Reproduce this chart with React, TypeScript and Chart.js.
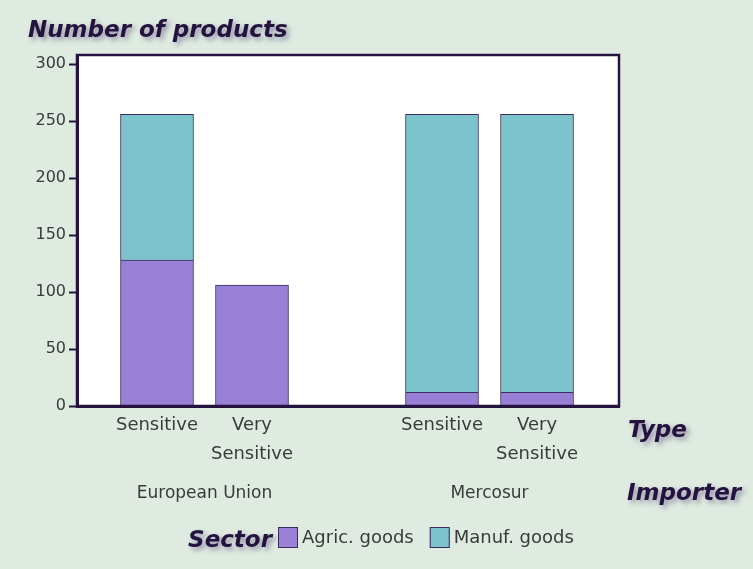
import React, { useEffect, useRef } from "react";
import { Chart, registerables } from "chart.js";

Chart.register(...registerables);

const importers = ["European Union", "Mercosur"];
const types = ["Sensitive", "Very Sensitive"];
const sectors = ["Agric. goods", "Manuf. goods"];
// values in order: EU-Sensitive, EU-Very Sensitive, Mercosur-Sensitive, Mercosur-Very Sensitive
const agricValues = [128, 106, 12, 12];
const manufValues = [128, 0, 244, 244];
const yTicks = [0, 50, 100, 150, 200, 250, 300];

const BG = "#dfebe0";
const INK = "#24123f";
const PURPLE = "#9880d6";
const CYAN = "#7cc3cb";
const FONT = "'DejaVu Sans', Verdana, sans-serif";

// index positions on the x scale: one empty slot between importer groups
const slotOf = (k: number) => Math.floor(k / types.length) * (types.length + 1) + (k % types.length);
const slots = agricValues.map((_, k) => slotOf(k));

export default function App() {
  const ref = useRef<HTMLCanvasElement | null>(null);

  useEffect(() => {
    document.body.style.margin = "0";
    const canvas = ref.current;
    if (!canvas) return;

    const decor = {
      id: "decor",
      beforeDraw(chart: any) {
        const { ctx, chartArea: a } = chart;
        ctx.save();
        ctx.fillStyle = BG;
        ctx.fillRect(0, 0, chart.width, chart.height);
        ctx.fillStyle = "#ffffff";
        ctx.fillRect(a.left, a.top, a.right - a.left, a.bottom - a.top);
        ctx.restore();
      },
      afterDatasetsDraw(chart: any) {
        const { ctx, chartArea: a } = chart;
        ctx.save();
        ctx.strokeStyle = INK;
        ctx.lineWidth = 2.5;
        ctx.strokeRect(a.left, a.top, a.right - a.left, a.bottom - a.top);
        ctx.restore();
      },
      afterDraw(chart: any) {
        const { ctx } = chart;
        const xs = chart.scales.x;
        ctx.save();
        // group labels
        ctx.fillStyle = "#3a3a3a";
        ctx.font = `17px ${FONT}`;
        ctx.textAlign = "center";
        ctx.textBaseline = "middle";
        importers.forEach((name, i) => {
          const c = i * (types.length + 1) + (types.length - 1) / 2;
          ctx.fillText(name, xs.getPixelForValue(c), 494);
        });

        const heading = (t: string, x: number, y: number, size: number) => {
          ctx.save();
          ctx.font = `italic bold ${size}px ${FONT}`;
          ctx.textAlign = "left";
          ctx.textBaseline = "alphabetic";
          ctx.shadowColor = "rgba(80,65,120,0.5)";
          ctx.shadowBlur = 5;
          ctx.shadowOffsetX = 3;
          ctx.shadowOffsetY = 3;
          ctx.fillStyle = INK;
          ctx.fillText(t, x, y);
          ctx.restore();
        };
        heading("Number of products", 28, 37, 23);
        heading("Type", 628, 437, 23);
        heading("Importer", 627, 500, 23);

        // legend
        ctx.font = `italic bold 23px ${FONT}`;
        const sw = ctx.measureText("Sector").width;
        heading("Sector", 272 - sw, 547, 23);
        let x = 278;
        const colors = [PURPLE, CYAN];
        sectors.forEach((s, i) => {
          ctx.fillStyle = colors[i];
          ctx.fillRect(x, 527, 20, 21);
          ctx.strokeStyle = "#3b2b5e";
          ctx.lineWidth = 1;
          ctx.strokeRect(x + 0.5, 527.5, 19, 20);
          ctx.fillStyle = "#3a3a3a";
          ctx.font = `18px ${FONT}`;
          ctx.textAlign = "left";
          ctx.textBaseline = "middle";
          ctx.fillText(s, x + 24, 538);
          x += 24 + ctx.measureText(s).width + 16;
        });
        ctx.restore();
      },
    };

    const chart = new Chart(canvas, {
      type: "bar",
      data: {
        datasets: [
          {
            label: sectors[0],
            data: agricValues.map((v, k) => ({ x: slots[k], y: v })),
            backgroundColor: PURPLE,
            borderColor: "#3b2b5e",
            borderWidth: 1,
            barThickness: 73,
          },
          {
            label: sectors[1],
            data: manufValues.map((v, k) => ({ x: slots[k], y: v })),
            backgroundColor: CYAN,
            borderColor: "#3b2b5e",
            borderWidth: 1,
            barThickness: 73,
          },
        ] as any,
      },
      options: {
        animation: false,
        responsive: false,
        layout: { padding: { left: 0, top: 55, right: 134, bottom: 0 } },
        plugins: { legend: { display: false }, tooltip: { enabled: false } },
        scales: {
          x: {
            type: "linear",
            stacked: true,
            offset: false,
            min: -0.842,
            max: 4.863,
            afterBuildTicks: (s: any) => {
              s.ticks = slots.map((v) => ({ value: v }));
            },
            afterFit: (s: any) => {
              s.height = 163;
            },
            grid: { display: false, drawTicks: false, offset: false },
            border: { display: true, color: INK, width: 3 },
            ticks: {
              padding: 5,
              color: "#3a3a3a",
              font: { family: FONT, size: 18, lineHeight: 1.6 },
              maxRotation: 0,
              autoSkip: false,
              callback: (v: any) => {
                const k = slots.indexOf(v);
                if (k < 0) return "";
                return types[k % types.length].split(" ");
              },
            },
          },
          y: {
            stacked: true,
            min: 0,
            max: 308,
            afterBuildTicks: (s: any) => {
              s.ticks = yTicks.map((v) => ({ value: v }));
            },
            afterFit: (s: any) => {
              s.width = 77;
            },
            grid: {
              drawOnChartArea: false,
              drawTicks: true,
              tickLength: 8,
              tickWidth: 2,
              color: INK,
            },
            border: { display: true, color: INK, width: 3 },
            ticks: {
              padding: 3,
              color: "#3a3a3a",
              font: { family: FONT, size: 16 },
            },
          },
        },
      },
      plugins: [decor],
    });
    return () => chart.destroy();
  }, []);

  return (
    <div style={{ width: 753, height: 569, background: BG }}>
      <canvas ref={ref} width={753} height={569} style={{ display: "block" }} />
    </div>
  );
}
